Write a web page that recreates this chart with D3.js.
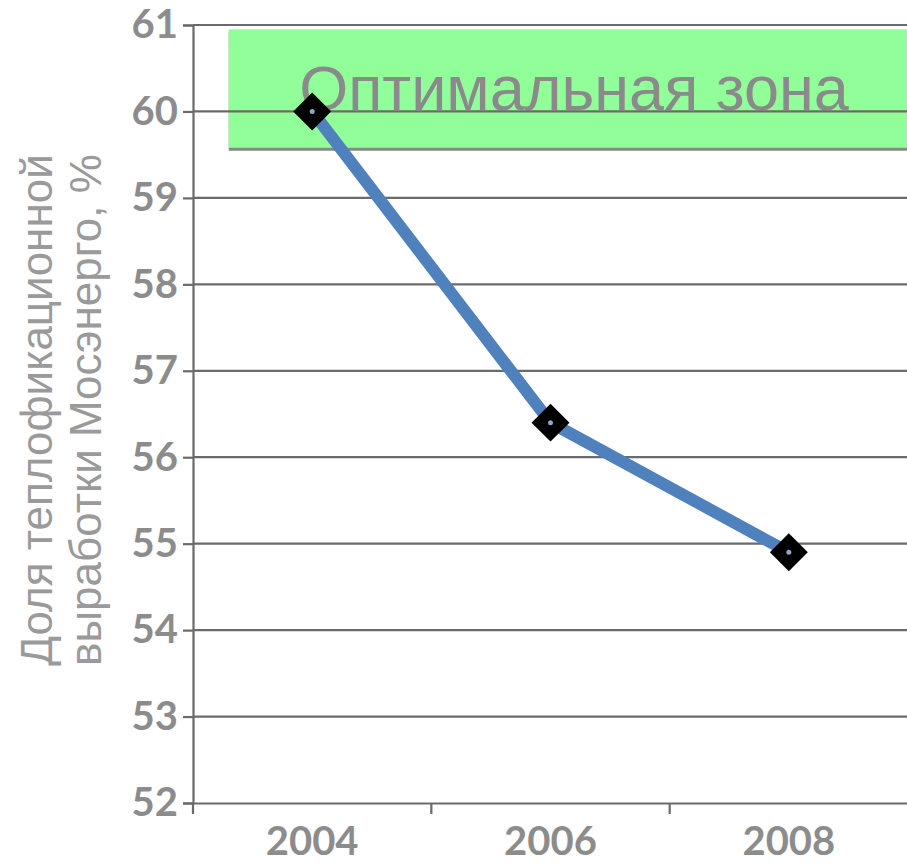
<!DOCTYPE html>
<html><head><meta charset="utf-8">
<script src="https://cdn.jsdelivr.net/npm/d3@7"></script>
<style>body{margin:0;background:#fff}svg{display:block}</style>
</head><body>
<script>
const years = ["2004", "2006", "2008"];
const values = [60.0, 56.4, 54.9];
const yTicks = [52, 53, 54, 55, 56, 57, 58, 59, 60, 61];
const zoneRange = [59.58, 60.95];
const zoneLabel = "Оптимальная зона";
const yTitle = ["Доля теплофикационной", "выработки Мосэнерго, %"];

const W = 907, H = 864;
const svg = d3.select("body").append("svg").attr("width", W).attr("height", H);
const x = d3.scaleBand().domain(years).range([193, 908]);
const y = d3.scaleLinear().domain([52, 61]).range([803, 25]);

// zone
const zx0 = x("2004") + x.bandwidth() * 0.15;
svg.append("rect").attr("x", zx0).attr("y", y(zoneRange[1]) + 3)
  .attr("width", W - zx0).attr("height", y(zoneRange[0]) - y(zoneRange[1]))
  .attr("fill", "#888");
svg.append("rect").attr("x", zx0).attr("y", y(zoneRange[1]))
  .attr("width", W - zx0).attr("height", y(zoneRange[0]) - y(zoneRange[1]))
  .attr("fill", "#92fe9a");
svg.append("text").attr("x", 574).attr("y", 110)
  .attr("text-anchor", "middle").attr("font-family", "Liberation Sans, Arial")
  .attr("font-size", 63).attr("fill", "#8a8a8a").text(zoneLabel);

// gridlines
svg.append("g").selectAll("line").data(yTicks.filter(d => d > 52)).join("line")
  .attr("x1", 193).attr("x2", W).attr("y1", d => y(d)).attr("y2", d => y(d))
  .attr("stroke", "#6a6a6a").attr("stroke-width", 2.2);

// y axis
const ya = svg.append("g").attr("transform", "translate(193,0)")
  .call(d3.axisLeft(y).tickValues(yTicks).tickSize(10).tickPadding(5).tickFormat(d3.format("d")));
ya.select(".domain").attr("stroke", "#6a6a6a").attr("stroke-width", 2.2);
ya.selectAll(".tick line").attr("stroke", "#6a6a6a").attr("stroke-width", 2.2);
ya.selectAll(".tick text").attr("fill", "#8c8c8c").attr("font-size", 40)
  .attr("font-weight", "bold").attr("font-family", "Lato, Open Sans, sans-serif");

// x axis
const xa = svg.append("g").attr("transform", "translate(0,803)")
  .call(d3.axisBottom(x).tickSize(0).tickPadding(24));
xa.select(".domain").attr("stroke", "#6a6a6a").attr("stroke-width", 2.2);
xa.selectAll(".tick text").attr("fill", "#8c8c8c").attr("font-size", 40)
  .attr("font-weight", "bold").attr("font-family", "Lato, Open Sans, sans-serif")
  .attr("dy", "0.71em");
// band boundary ticks
const bounds = [x.range()[0], ...years.slice(1).map(d => x(d))];
svg.append("g").selectAll("line").data(bounds).join("line")
  .attr("x1", d => d).attr("x2", d => d).attr("y1", 803).attr("y2", 814)
  .attr("stroke", "#6a6a6a").attr("stroke-width", 2.2);

// y title
const t = svg.append("text").attr("transform", "translate(0,410) rotate(-90)")
  .attr("text-anchor", "middle").attr("font-family", "Liberation Sans, Arial")
  .attr("font-size", 44).attr("fill", "#9a9a9a");
t.append("tspan").attr("x", 0).attr("y", 52).text(yTitle[0]);
t.append("tspan").attr("x", 0).attr("y", 101).text(yTitle[1]);

// line
const cx = d => x(d) + x.bandwidth() / 2;
const pts = years.map((d, i) => [cx(d), y(values[i])]);
svg.append("path").attr("d", d3.line()(pts)).attr("fill", "none")
  .attr("stroke", "#4f81bd").attr("stroke-width", 12).attr("stroke-linejoin", "round");

// markers
svg.append("g").selectAll("path").data(pts).join("path")
  .attr("transform", d => `translate(${d[0]},${d[1]}) rotate(45)`)
  .attr("d", d3.symbol().type(d3.symbolSquare).size(720)).attr("fill", "#000");
svg.append("g").selectAll("circle").data(pts).join("circle")
  .attr("cx", d => d[0]).attr("cy", d => d[1]).attr("r", 2.5).attr("fill", "#8fa6c8");
</script>
</body></html>
